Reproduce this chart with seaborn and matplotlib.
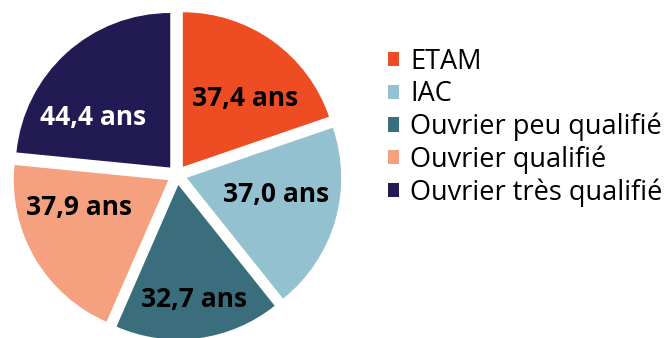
import matplotlib
matplotlib.use("Agg")
import matplotlib.pyplot as plt
from matplotlib.patches import Patch
import numpy as np
import seaborn as sns

categories = ["ETAM", "IAC", "Ouvrier peu qualifié", "Ouvrier qualifié", "Ouvrier très qualifié"]
ages = [37.4, 37.0, 32.7, 37.9, 44.4]
colors = ["#EE4C22", "#94C1CF", "#3A6E7C", "#F5A07F", "#221A52"]
text_colors = ["black", "black", "black", "black", "white"]

sns.set_theme(style="white")
plt.rcParams["font.family"] = ["Open Sans", "DejaVu Sans"]

palette = sns.color_palette(colors)

fig = plt.figure(figsize=(6.67, 3.38), dpi=100)
# pie axes: centre at (177, 163) px from bottom-left, 154.5 px per unit
W, H = 667, 338
cx, cy, half = 177, 163, 170
ax = fig.add_axes([(cx - half) / W, (cy - half) / H, 2 * half / W, 2 * half / H])
ax.axis("off")

wedges, _ = ax.pie(ages, colors=palette, startangle=90, counterclock=False,
                   explode=[0.065] * len(ages), radius=1.0,
                   wedgeprops=dict(linewidth=0))
ax.set_aspect("equal")
ax.set_xlim(-1.1, 1.1)
ax.set_ylim(-1.1, 1.1)

# label placement: (angle offset from wedge middle in degrees, radial distance)
label_layout = [(-6, 0.665), (5.3, 0.653), (0.3, 0.81), (-11.8, 0.669), (13.2, 0.66)]
for w, val, tc, (dang, r) in zip(wedges, ages, text_colors, label_layout):
    mid = np.deg2rad((w.theta1 + w.theta2) / 2 + dang)
    ax.text(r * np.cos(mid), r * np.sin(mid),
            f"{val:.1f}".replace(".", ",") + " ans",
            ha="center", va="center", fontsize=19, fontweight="bold", color=tc)

handles = [Patch(facecolor=c, edgecolor="none") for c in palette]
leg = fig.legend(handles, categories, loc="upper left",
                 bbox_to_anchor=(388 / W, 1 - 48 / H), frameon=False,
                 fontsize=19.5, handlelength=0.42, handleheight=0.42,
                 handletextpad=0.4, labelspacing=0.16, borderaxespad=0,
                 borderpad=0)
for t in leg.get_texts():
    t.set_color("black")

fig.savefig("out.png", dpi=100)
